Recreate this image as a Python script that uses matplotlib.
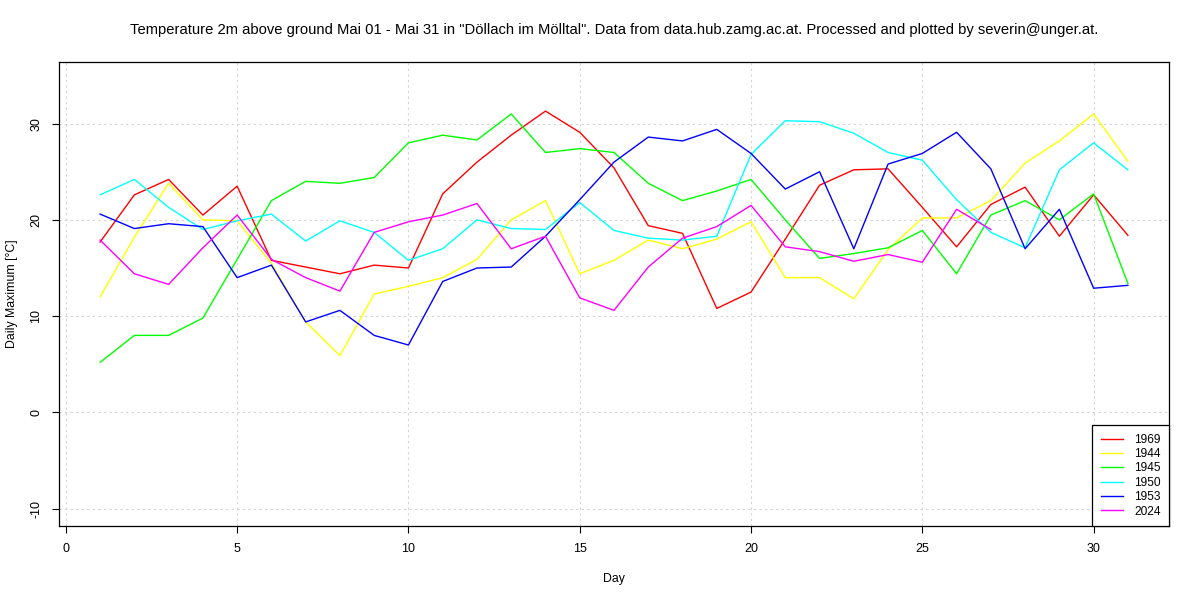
import matplotlib
matplotlib.use("Agg")
import matplotlib.pyplot as plt

days = list(range(1, 32))

t1969 = [17.7, 22.6, 24.2, 20.5, 23.5, 15.8, 15.1, 14.4, 15.3, 15.0, 22.7, 26.0, 28.8, 31.3, 29.1,
         25.4, 19.4, 18.6, 10.8, 12.5, 18.0, 23.6, 25.2, 25.3, 21.3, 17.2, 21.6, 23.4, 18.3, 22.6, 18.4]
t1944 = [12.0, 18.2, 23.8, 20.0, 19.9, 15.5, 9.4, 5.9, 12.3, 13.1, 14.0, 15.9, 20.0, 22.0, 14.4,
         15.8, 17.9, 17.0, 18.0, 19.8, 14.0, 14.0, 11.8, 16.9, 20.2, 20.2, 22.0, 25.9, 28.2, 31.0, 26.1]
t1945 = [5.2, 8.0, 8.0, 9.8, 15.9, 22.0, 24.0, 23.8, 24.4, 28.0, 28.8, 28.3, 31.0, 27.0, 27.4,
         27.0, 23.8, 22.0, 23.0, 24.2, 20.0, 16.0, 16.5, 17.1, 18.9, 14.4, 20.5, 22.0, 20.0, 22.7, 13.4]
t1950 = [22.6, 24.2, 21.3, 19.0, 19.9, 20.6, 17.8, 19.9, 18.7, 15.8, 17.0, 20.0, 19.1, 19.0, 21.8,
         18.9, 18.1, 17.9, 18.3, 26.8, 30.3, 30.2, 29.0, 27.0, 26.2, 22.1, 18.7, 17.1, 25.2, 28.0, 25.2]
t1953 = [20.6, 19.1, 19.6, 19.3, 14.0, 15.3, 9.4, 10.6, 8.0, 7.0, 13.6, 15.0, 15.1, 18.3, 22.1,
         26.0, 28.6, 28.2, 29.4, 26.9, 23.2, 25.0, 17.0, 25.8, 26.9, 29.1, 25.3, 17.0, 21.1, 12.9, 13.2]
days2024 = list(range(1, 28))
t2024 = [17.9, 14.4, 13.3, 17.1, 20.5, 15.9, 14.0, 12.6, 18.7, 19.8, 20.5, 21.7, 17.0, 18.3, 11.9,
         10.6, 15.1, 18.1, 19.3, 21.5, 17.2, 16.7, 15.7, 16.4, 15.6, 21.1, 19.0]

series = [("1969", days, t1969, "#FF0000"),
          ("1944", days, t1944, "#FFFF00"),
          ("1945", days, t1945, "#00FF00"),
          ("1950", days, t1950, "#00FFFF"),
          ("1953", days, t1953, "#0000FF"),
          ("2024", days2024, t2024, "#FF00FF")]

xticks = [0, 5, 10, 15, 20, 25, 30]
yticks = [-10, 0, 10, 20, 30]

plt.rcParams['font.family'] = ['Liberation Sans', 'DejaVu Sans']
plt.rcParams['axes.unicode_minus'] = False
fig = plt.figure(figsize=(12, 6), dpi=100)
ax = fig.add_axes([59/1200, 1-526/600, (1169-59)/1200, (526-62)/600])

for x in xticks:
    ax.axvline(x, color='#d3d3d3', lw=0.8, ls=(0, (2, 3)), zorder=1)
for y in yticks:
    ax.axhline(y, color='#d3d3d3', lw=0.8, ls=(0, (2, 3)), zorder=1)

for name, xs, ys, col in series:
    ax.plot(xs, ys, color=col, lw=1.0, label=name, zorder=3)

ax.set_xlim(-0.2, 32.2)
ax.set_ylim(-11.8, 36.4)
ax.set_xticks(xticks)
ax.set_yticks(yticks)
ax.tick_params(labelsize=9, length=5, width=0.8, pad=7)
for lab in ax.get_yticklabels():
    lab.set_rotation(90)
    lab.set_va('center')
for s in ax.spines.values():
    s.set_linewidth(0.9)

ax.set_xlabel("Day", fontsize=8.8, labelpad=13)
ax.set_ylabel("Daily Maximum [°C]", fontsize=8.8, labelpad=9)
ax.set_title('Temperature 2m above ground Mai 01 - Mai 31 in "Döllach im Mölltal". Data from data.hub.zamg.ac.at. Processed and plotted by severin@unger.at.',
             fontsize=10.6, pad=20)

leg = ax.legend(loc='lower right', borderaxespad=0, fancybox=False, edgecolor='black',
                framealpha=1, fontsize=8.6, handlelength=1.9, handletextpad=0.9,
                labelspacing=0.2, borderpad=0.7)
leg.get_frame().set_linewidth(0.9)
leg.set_zorder(5)

fig.savefig("out.png", dpi=100)
